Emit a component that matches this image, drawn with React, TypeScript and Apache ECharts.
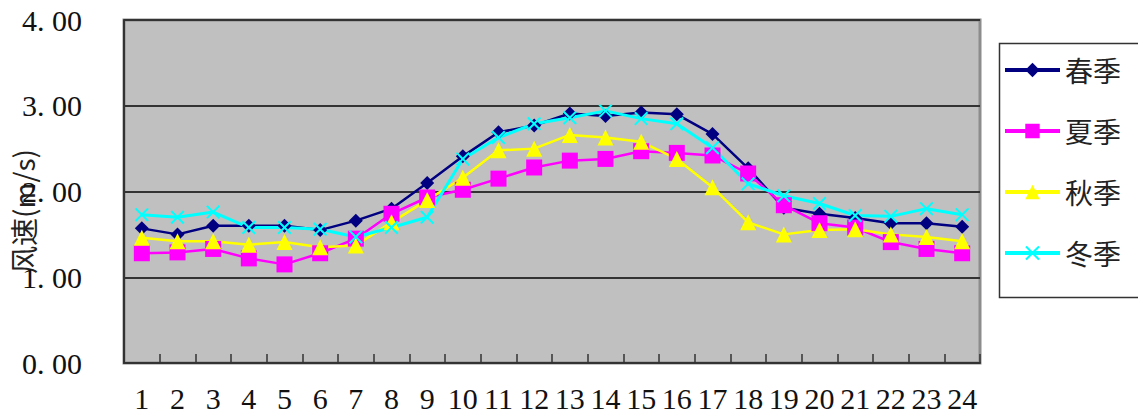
import React, { useEffect, useRef } from "react";
import * as echarts from "echarts";

const hours = ["1","2","3","4","5","6","7","8","9","10","11","12","13","14","15","16","17","18","19","20","21","22","23","24"];
const spring = [1.57,1.50,1.60,1.60,1.60,1.55,1.66,1.80,2.10,2.41,2.69,2.77,2.91,2.88,2.92,2.90,2.67,2.27,1.81,1.74,1.69,1.63,1.63,1.59];
const summer = [1.28,1.29,1.33,1.22,1.15,1.28,1.45,1.74,1.93,2.02,2.15,2.28,2.36,2.38,2.47,2.45,2.42,2.21,1.84,1.63,1.58,1.41,1.33,1.28];
const autumn = [1.46,1.42,1.42,1.38,1.41,1.35,1.37,1.64,1.90,2.16,2.48,2.50,2.66,2.63,2.58,2.38,2.05,1.64,1.50,1.55,1.56,1.50,1.47,1.42];
const winter = [1.73,1.70,1.76,1.58,1.58,1.56,1.47,1.58,1.70,2.38,2.63,2.79,2.86,2.94,2.85,2.79,2.51,2.09,1.95,1.86,1.72,1.71,1.80,1.73];
const seriesNames = ["春季","夏季","秋季","冬季"];
const yTicks = [0, 1, 2, 3, 4];
const yName = "风速(m/s)";

const X_SYMBOL = "path://M0,1 L1,0 L5,4 L9,0 L10,1 L6,5 L10,9 L9,10 L5,6 L1,10 L0,9 L4,5 Z";

export default function App() {
  const ref = useRef<HTMLDivElement>(null);
  useEffect(() => {
    if (!ref.current) return;
    const chart = echarts.init(ref.current, null, { renderer: "svg" });
    const serif = "'Liberation Serif', 'DejaVu Serif', serif";
    const cjk = "'Noto Sans CJK SC', sans-serif";
    const mk = (name: string, data: number[], color: string, symbol: string, size: number, lw: number) => ({
      name,
      type: "line",
      data,
      symbol,
      symbolSize: size,
      showAllSymbol: true,
      lineStyle: { color, width: lw },
      itemStyle: { color, borderWidth: 0 },
      emphasis: { disabled: true },
    });
    chart.setOption({
      animation: false,
      backgroundColor: "#ffffff",
      grid: {
        left: 124,
        right: 158,
        top: 20,
        bottom: 51,
        containLabel: false,
        outerBoundsMode: "none",
        show: true,
        backgroundColor: "#c0c0c0",
        borderColor: "#8c8c8c",
        borderWidth: 3,
      },
      xAxis: {
        type: "category",
        data: hours,
        boundaryGap: true,
        axisLine: { lineStyle: { color: "#333333", width: 2 } },
        axisTick: { show: true, inside: true, length: 9, lineStyle: { color: "#333333", width: 1.5 } },
        axisLabel: { interval: 0, margin: 20, fontFamily: serif, fontSize: 30, color: "#111111" },
        splitLine: { show: false },
      },
      yAxis: {
        type: "value",
        min: yTicks[0],
        max: yTicks[yTicks.length - 1],
        interval: 1,
        name: yName,
        nameLocation: "middle",
        nameRotate: 90,
        nameGap: 87,
        nameMoveOverlap: false,
        nameTextStyle: { fontFamily: cjk, fontSize: 28, color: "#222222", padding: [0, 40, 0, 0] },
        axisLine: { show: true, lineStyle: { color: "#333333", width: 2 } },
        axisTick: { show: false },
        axisLabel: {
          margin: 42,
          fontFamily: serif,
          fontSize: 30,
          color: "#111111",
          formatter: (v: number) => v.toFixed(2).replace(".", ". "),
        },
        splitLine: { show: true, lineStyle: { color: "#333333", width: 2 } },
      },
      legend: {
        orient: "vertical",
        left: 1003,
        top: 56,
        padding: 0,
        itemGap: 33,
        itemWidth: 55,
        itemHeight: 18,
        lineStyle: { width: 4 },
        data: seriesNames,
        textStyle: { fontFamily: cjk, fontSize: 28, color: "#222222" },
      },
      graphic: [
        {
          type: "rect",
          left: 997,
          top: 41,
          shape: { width: 200, height: 254 },
          style: { fill: "none", stroke: "#333333", lineWidth: 1.5 },
          z: 1,
        },
      ],
      series: [
        mk(seriesNames[0], spring, "#000080", "diamond", 14, 2.5),
        mk(seriesNames[1], summer, "#ff00ff", "rect", 16, 2.5),
        mk(seriesNames[2], autumn, "#ffff00", "triangle", 16, 2.5),
        mk(seriesNames[3], winter, "#00ffff", X_SYMBOL, 14, 3),
      ],
    });
    return () => chart.dispose();
  }, []);
  return (
    <div
      ref={ref}
      style={{ position: "fixed", left: 0, top: 0, width: 1138, height: 414, background: "#fff" }}
    />
  );
}
